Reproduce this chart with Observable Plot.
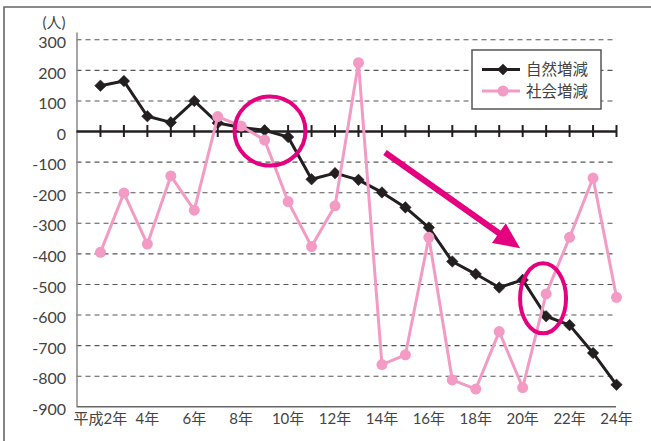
<!DOCTYPE html>
<html>
<head>
<meta charset="utf-8">
<script src="https://cdn.jsdelivr.net/npm/d3@7"></script>
<script src="https://cdn.jsdelivr.net/npm/@observablehq/plot@0.6"></script>
<style>
  html, body { margin: 0; padding: 0; background: #fff; }
  #chart { position: relative; width: 651px; height: 441px; overflow: hidden; }
</style>
</head>
<body>
<div id="chart"></div>
<script>
// ---- data (平成 years) ----
const years = [2,3,4,5,6,7,8,9,10,11,12,13,14,15,16,17,18,19,20,21,22,23,24];
const natural = [150,165,50,30,100,28,13,4,-18,-156,-136,-158,-199,-248,-314,-425,-466,-510,-485,-604,-633,-724,-828];
const social  = [-395,-201,-368,-145,-257,49,18,-28,-229,-376,-243,225,-762,-730,-346,-812,-842,-654,-837,-531,-346,-152,-542];
const seriesNames = ["自然増減", "社会増減"];
const yTicks = [300,200,100,0,-100,-200,-300,-400,-500,-600,-700,-800,-900];
const gridTicks = [300,200,100,-100,-200,-300,-400,-500,-600,-700,-800];
const xTickYears = [2,4,6,8,10,12,14,16,18,20,22,24];
const xTickLabels = ["平成2年","4年","6年","8年","10年","12年","14年","16年","18年","20年","22年","24年"];
const unitLabel = "(人)";
// annotations in data coordinates
const circleMarks = [{year: 9.25, value: 0, rx: 35.5, ry: 34.5}, {year: 20.89, value: -547, rx: 23, ry: 35}];
const arrowFrom = {year: 14.15, value: -70};
const arrowTo = {year: 19.91, value: -383};

const natData = years.map((y, i) => ({year: y, value: natural[i]}));
const socData = years.map((y, i) => ({year: y, value: social[i]}));

const FONT = "Lato, 'Noto Sans CJK JP', sans-serif";
const BLACK = "#231f20";
const PINK = "#f39bc4";
const MAGENTA = "#e5007f";
const TEXT = "#444";

const chart = Plot.plot({
  width: 651,
  height: 441,
  marginLeft: 76.5,
  marginRight: 35,
  marginTop: 39.3,
  marginBottom: 34.7,
  style: {fontFamily: FONT, background: "#fff", overflow: "visible"},
  x: {domain: [1, 24], axis: null},
  y: {domain: [-900, 300], axis: null},
  marks: [
    Plot.ruleY(gridTicks, {y: d => d, x1: 1, x2: 24, stroke: "#555", strokeWidth: 1.1, strokeDasharray: "5,4"}),
    Plot.ruleY([-900], {y: d => d, x1: 1, x2: 24, stroke: "#666", strokeWidth: 1.5}),
    Plot.ruleX([1], {x: d => d, y1: -900, y2: 322, stroke: "#888", strokeWidth: 1.5}),
    Plot.ruleY([0], {y: d => d, x1: 1, x2: 24.03, stroke: BLACK, strokeWidth: 2.6}),
    Plot.ruleX(years, {x: d => d, y1: 0, y2: 0, insetTop: -6, insetBottom: -6, stroke: BLACK, strokeWidth: 2}),
    Plot.text(yTicks, {y: d => d, frameAnchor: "left", textAnchor: "end", dx: -11, dy: 3, text: d => String(d), fontSize: 16, fill: TEXT}),
    Plot.text(xTickYears, {x: d => d, frameAnchor: "bottom", dy: 17, text: (d, i) => xTickLabels[i], fontSize: 15, fill: TEXT}),
    Plot.line(natData, {x: "year", y: "value", stroke: BLACK, strokeWidth: 3}),
    Plot.dot(natData, {x: "year", y: "value", symbol: "diamond2", r: 5.2, fill: BLACK, stroke: BLACK, strokeWidth: 0.5}),
    Plot.line(socData, {x: "year", y: "value", stroke: PINK, strokeWidth: 3}),
    Plot.dot(socData, {x: "year", y: "value", r: 5.5, fill: PINK})
  ]
});

document.getElementById("chart").appendChild(chart);

const svg = d3.select(chart);
const sx = chart.scale("x"), sy = chart.scale("y");

// outer frame (left and top edges)
svg.append("path").attr("d", "M4,441V7H651").attr("fill", "none").attr("stroke", "#666").attr("stroke-width", 1.6);

// unit label
svg.append("text").attr("x", 54).attr("y", 28).attr("text-anchor", "middle")
  .attr("font-size", 15).attr("fill", TEXT).attr("font-family", FONT).text(unitLabel);

// annotations
for (const c of circleMarks) {
  svg.append("ellipse").attr("cx", sx.apply(c.year)).attr("cy", sy.apply(c.value))
    .attr("rx", c.rx).attr("ry", c.ry).attr("fill", "none").attr("stroke", MAGENTA).attr("stroke-width", 4);
}
{
  const x0 = sx.apply(arrowFrom.year), y0 = sy.apply(arrowFrom.value);
  const x1 = sx.apply(arrowTo.year), y1 = sy.apply(arrowTo.value);
  const ang = Math.atan2(y1 - y0, x1 - x0);
  const headLen = 26, headHalf = 12;
  const bx = x1 - headLen * Math.cos(ang), by = y1 - headLen * Math.sin(ang);
  const nx = -Math.sin(ang), ny = Math.cos(ang);
  svg.append("line").attr("x1", x0).attr("y1", y0).attr("x2", bx + 2 * Math.cos(ang)).attr("y2", by + 2 * Math.sin(ang))
    .attr("stroke", MAGENTA).attr("stroke-width", 6);
  svg.append("polygon").attr("points", [[x1, y1], [bx + nx * headHalf, by + ny * headHalf], [bx - nx * headHalf, by - ny * headHalf]].map(p => p.join(",")).join(" "))
    .attr("fill", MAGENTA);
}

// legend
{
  const g = svg.append("g");
  g.append("rect").attr("x", 472).attr("y", 50).attr("width", 129).attr("height", 59)
    .attr("fill", "#fff").attr("stroke", "#555").attr("stroke-width", 1.5);
  const rows = [{name: seriesNames[0], color: BLACK, y: 69.5, sym: "diamond"}, {name: seriesNames[1], color: PINK, y: 91, sym: "circle"}];
  for (const r of rows) {
    g.append("line").attr("x1", 482).attr("x2", 520).attr("y1", r.y).attr("y2", r.y).attr("stroke", r.color).attr("stroke-width", 3);
    if (r.sym === "diamond") {
      g.append("path").attr("d", `M503,${r.y - 5.8}L508.8,${r.y}L503,${r.y + 5.8}L497.2,${r.y}Z`).attr("fill", r.color);
    } else {
      g.append("circle").attr("cx", 503).attr("cy", r.y).attr("r", 5.5).attr("fill", r.color);
    }
    g.append("text").attr("x", 526).attr("y", r.y).attr("dy", "0.36em").attr("font-size", 15.5)
      .attr("text-anchor", "start").attr("fill", TEXT).attr("font-family", FONT).text(r.name);
  }
}
</script>
</body>
</html>
